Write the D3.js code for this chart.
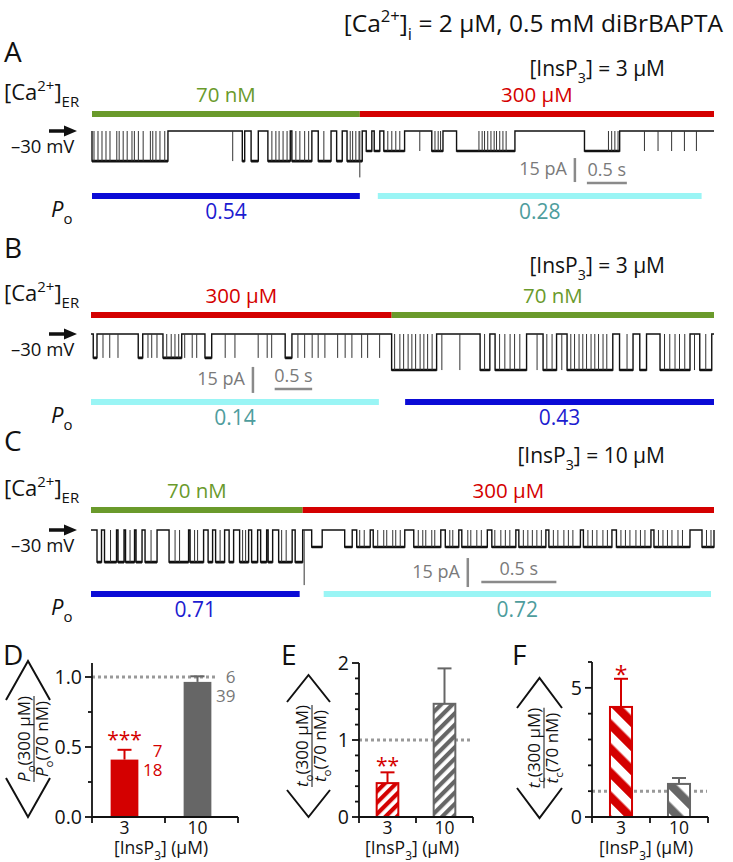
<!DOCTYPE html>
<html><head><meta charset="utf-8">
<script src="https://cdn.jsdelivr.net/npm/d3@7"></script>
<style>
body{margin:0;background:#fff;}
svg{display:block;font-family:'Open Sans','Noto Sans',sans-serif;}
</style></head><body>
<svg id="fig" width="733" height="862"></svg>
<script>
// ================= DATA =================
// Single-channel traces: times in s, currents in pA (downward = open)
const durA = 7.78, durB = 8.31, durC = 4.15;
const erA = [["70 nM",0,3.35],["300 µM",3.35,7.78]];
const poA = [["70 nM","0.54",0,3.35],["300 µM","0.28",3.575,7.625]];
const ampA = [18.8, 12.5];
const openA = [[0,0.95],[1.88,1.91],[1.99,2.08],[2.20,2.48],[2.50,2.75],[2.83,2.99],[3.06,3.13],[3.19,3.38],[3.43,3.50],[3.53,3.60],[3.65,3.91],[4.25,4.39],[4.56,5.29],[6.16,6.60]];
const closeA = [0.025,0.075,0.125,0.175,0.225,0.31,0.34,0.39,0.44,0.50,0.53,0.58,0.64,0.73,0.76,0.80,0.85,0.91,2.25,2.30,2.34,2.39,2.44,2.55,2.60,2.66,2.71,2.90,3.23,3.26,3.30,3.34,3.70,3.75,3.80,3.85,4.29,4.33,4.36,4.84,4.88,4.91,4.95,4.99,5.03,5.06,5.10,5.14,5.18,6.46,6.50,6.54,6.58];
const spikeA = [1.76,4.10,6.91,7.08,7.25,7.41,7.56];
const artA = [[3.35,29]];
const sbA = {tV:6.04, iV:16.9, tH:6.19, iH:32.5};

const erB = [["300 µM",0,4.01],["70 nM",4.01,8.31]];
const poB = [["300 µM","0.14",0,3.84],["70 nM","0.43",4.19,8.31]];
const ampB = [13.8, 20.8];
const openB = [[0.03,0.08],[0.63,0.69],[0.96,1.21],[1.52,1.61],[2.59,2.68],[4.01,4.61],[5.19,5.32],[5.39,5.81],[6.03,6.21],[6.35,6.96],[7.05,7.23],[7.32,7.41],[7.59,7.99],[8.12,8.28]];
const closeB = [1.01,1.07,1.12,1.17,4.05,4.12,4.17,4.23,4.28,4.33,4.39,4.44,4.49,4.55,5.25,5.45,5.52,5.59,5.65,5.72,6.08,6.15,6.40,6.45,6.51,6.56,6.61,6.67,6.72,6.77,6.83,6.88,7.15,7.65,7.72,7.79,7.85,7.92,8.20];
const spikeB = [0.16,0.25,0.36,0.76,0.81,0.88,1.25,1.35,1.41,1.79,1.92,2.23,2.35,2.41,2.76,2.85,2.95,3.03,3.12,3.29,3.39,3.48,3.61,3.69,3.85,4.68,4.92,5.95,6.28,8.05];
const artB = [];
const sbB = {tV:2.16, iV:19.0, tH:2.45, iH:31.7};

const erC = [["70 nM",0,1.41],["300 µM",1.41,4.15]];
const poC = [["70 nM","0.71",0,1.39],["300 µM","0.72",1.55,4.13]];
const ampC = [16.6, 8.8];
const openC = [[0.04,0.07],[0.09,0.17],[0.18,0.22],[0.23,0.29],[0.30,0.34],[0.36,0.44],[0.52,0.65],[0.66,0.75],[0.78,0.81],[0.83,0.89],[0.92,0.95],[0.99,1.05],[1.07,1.11],[1.13,1.17],[1.18,1.21],[1.25,1.34],[1.36,1.41],[1.47,1.54],[1.69,1.74],[1.77,1.86],[1.88,2.09],[2.15,2.33],[2.36,2.45],[2.47,2.64],[2.67,2.83],[2.85,3.03],[3.05,3.26],[3.28,3.47],[3.50,3.73],[3.75,3.99],[4.07,4.15]];
const closeC = [0.13,0.26,0.40,0.56,0.59,0.69,0.71,0.86,1.01,1.03,1.27,1.30,1.79,1.82,1.91,1.95,1.97,2.01,2.03,2.06,2.18,2.21,2.23,2.27,2.29,2.39,2.41,2.51,2.53,2.57,2.60,2.69,2.73,2.76,2.79,2.88,2.91,2.94,2.97,3.00,3.08,3.11,3.15,3.18,3.21,3.31,3.34,3.37,3.41,3.44,3.53,3.56,3.59,3.63,3.66,3.69,3.78,3.81,3.84,3.87,3.91,3.94,4.10,4.13];
const spikeC = [];
const artC = [[1.42,28.5]];
const sbC = {tV:2.51, iV:14.5, tH:2.60, iH:26.9};

// Summary bar charts
const barCats = ["3","10"];
const poRatio = [0.41, 0.965], poRatioErr = [0.07, 0.04];
const poN = [["7","18"],["6","39"]];
const toRatio = [0.44, 1.47], toRatioErr = [0.14, 0.46];
const tcRatio = [4.26, 1.28], tcRatioErr = [1.09, 0.23];
const sigD = ["***",""], sigE = ["**",""], sigF = ["*",""];

// ================= DRAW =================
const svg = d3.select("#fig");
const GREEN="#6a9a2b", RED="#d40000", BLUE="#0b0bd6", CYAN="#9af5f5", TEAL="#4e9d9d", GRAY="#666666", LGRAY="#8a8a8a", INK="#111";
const concColor = {"70 nM":GREEN, "300 µM":RED};
const poColor = {"70 nM":BLUE, "300 µM":CYAN};
const poText = {"70 nM":"#1c1cd0", "300 µM":TEAL};

function rich(sel, parts, size){
  let shift = 0;
  parts.forEach(p=>{
    const target = p.sup ? -size*0.42 : (p.sub ? size*0.32 : 0);
    const ts = sel.append("tspan").attr("dy", target-shift)
      .attr("font-size", (p.sup||p.sub) ? size*0.68 : size).text(p.t);
    if (p.it) ts.attr("font-style","italic");
    shift = target;
  });
  return sel;
}

// Title
rich(svg.append("text").attr("x",723).attr("y",32).attr("text-anchor","end").attr("font-size",24.5).attr("fill",INK),
  [{t:"[Ca"},{t:"2+",sup:1},{t:"]"},{t:"i",sub:1},{t:" = 2 µM, 0.5 mM diBrBAPTA"}], 24.5);

const panels = [
  {letter:"A", ins:"3", er:erA, po:poA, open:openA, close:closeA, spike:spikeA, amp:ampA, art:artA, sb:sbA, dur:durA,
   x0:92, x1:714, letterY:62, insY:76, erY:114, closedY:131, px15:24, poY:196},
  {letter:"B", ins:"3", er:erB, po:poB, open:openB, close:closeB, spike:spikeB, amp:ampB, art:artB, sb:sbB, dur:durB,
   x0:91, x1:714, letterY:258, insY:273, erY:315, closedY:334, px15:26, poY:402},
  {letter:"C", ins:"10", er:erC, po:poC, open:openC, close:closeC, spike:spikeC, amp:ampC, art:artC, sb:sbC, dur:durC,
   x0:91, x1:714, letterY:451, insY:463, erY:510, closedY:530, px15:29, poY:594}
];

panels.forEach(P=>{
  const g = svg.append("g");
  const x = d3.scaleLinear().domain([0,P.dur]).range([P.x0,P.x1]);
  const y = d3.scaleLinear().domain([0,15]).range([P.closedY, P.closedY+P.px15]);
  const sw = P.er[0][2];
  const lvl = t => t < sw ? P.amp[0] : P.amp[1];

  g.append("text").attr("x",4).attr("y",P.letterY).attr("font-size",28).attr("fill",INK).text(P.letter);
  rich(g.append("text").attr("x",665).attr("y",P.insY).attr("text-anchor","end").attr("font-size",21).attr("fill",INK),
    [{t:"[InsP"},{t:"3",sub:1},{t:"] = "+P.ins+" µM"}], 21);
  rich(g.append("text").attr("x",4).attr("y",P.erY-14).attr("font-size",22).attr("fill",INK),
    [{t:"[Ca"},{t:"2+",sup:1},{t:"]"},{t:"ER",sub:1}], 22);

  // [Ca2+]ER bars
  g.selectAll(".er").data(P.er).join("line")
    .attr("x1",d=>x(d[1])).attr("x2",d=>x(d[2])).attr("y1",P.erY).attr("y2",P.erY)
    .attr("stroke",d=>concColor[d[0]]).attr("stroke-width",6);
  g.selectAll(".erl").data(P.er).join("text")
    .attr("x",d=>x((d[1]+d[2])/2)).attr("y",P.erY-12).attr("text-anchor","middle")
    .attr("font-size",20.5).attr("fill",d=>concColor[d[0]]).text(d=>d[0]);

  // arrow + holding potential
  const ay = P.closedY;
  g.append("path").attr("d",`M49,${ay-1.8}H64V${ay-5.5}L77,${ay}L64,${ay+5.5}V${ay+1.8}H49Z`).attr("fill",INK);
  g.append("text").attr("x",11).attr("y",P.closedY+22).attr("font-size",18.5).attr("fill",INK).text("–30 mV");

  // trace: step path from open intervals
  let d = `M${x(0)},${y(0)}`, noisy = "";
  P.open.forEach(([a,b])=>{ const A = lvl((a+b)/2); d += `H${x(a)}V${y(A)}H${x(b)}V${y(0)}`; noisy += `M${x(a)},${y(A)}H${x(b)}`; });
  d += `H${x(P.dur)}`;
  g.append("path").attr("d",d).attr("fill","none").attr("stroke",INK).attr("stroke-width",1.4);
  g.append("path").attr("d",noisy).attr("fill","none").attr("stroke",INK).attr("stroke-width",2.6);
  // brief closings
  g.selectAll(".cl").data(P.close).join("line")
    .attr("x1",t=>x(t)).attr("x2",t=>x(t)).attr("y1",t=>y(lvl(t))).attr("y2",y(0))
    .attr("stroke","#333").attr("stroke-width",1);
  // brief openings
  g.selectAll(".op").data(P.spike).join("line")
    .attr("x1",t=>x(t)).attr("x2",t=>x(t)).attr("y1",y(0)).attr("y2",t=>y(lvl(t)))
    .attr("stroke","#333").attr("stroke-width",1);
  // solution-switch artifact
  g.selectAll(".art").data(P.art).join("line")
    .attr("x1",a=>x(a[0])).attr("x2",a=>x(a[0])).attr("y1",y(0)).attr("y2",a=>y(a[1]))
    .attr("stroke","#333").attr("stroke-width",1);

  // scale bars
  const sb = P.sb;
  g.append("line").attr("x1",x(sb.tV)).attr("x2",x(sb.tV)).attr("y1",y(sb.iV)).attr("y2",y(sb.iV+15))
    .attr("stroke",LGRAY).attr("stroke-width",2.5);
  g.append("line").attr("x1",x(sb.tH)).attr("x2",x(sb.tH+0.5)).attr("y1",y(sb.iH)).attr("y2",y(sb.iH))
    .attr("stroke",LGRAY).attr("stroke-width",2.5);
  g.append("text").attr("x",x(sb.tV)-8).attr("y",y(sb.iV+10.5)).attr("text-anchor","end")
    .attr("font-size",18).attr("fill","#7a7a7a").text("15 pA");
  g.append("text").attr("x",x(sb.tH+0.25)).attr("y",y(sb.iH)-7).attr("text-anchor","middle")
    .attr("font-size",18).attr("fill","#7a7a7a").text("0.5 s");

  // Po bars
  g.selectAll(".po").data(P.po).join("line")
    .attr("x1",d=>x(d[2])).attr("x2",d=>x(d[3])).attr("y1",P.poY).attr("y2",P.poY)
    .attr("stroke",d=>poColor[d[0]]).attr("stroke-width",6);
  g.selectAll(".pol").data(P.po).join("text")
    .attr("x",d=>x((d[2]+d[3])/2)).attr("y",P.poY+23).attr("text-anchor","middle")
    .attr("font-size",21).attr("fill",d=>poText[d[0]]).text(d=>d[1]);
  rich(g.append("text").attr("x",51).attr("y",P.poY+21).attr("font-size",22).attr("fill",INK),
    [{t:"P",it:1},{t:"o",sub:1}], 22);
});

// ---------- bar charts ----------
const defs = svg.append("defs");
function stripe(id, color, period, band, angle){
  const p = defs.append("pattern").attr("id",id).attr("patternUnits","userSpaceOnUse")
    .attr("width",period).attr("height",period).attr("patternTransform",`rotate(${angle})`);
  p.append("rect").attr("width",period).attr("height",period).attr("fill","#fff");
  p.append("rect").attr("width",band).attr("height",period).attr("fill",color);
}
stripe("eRed",RED,8,4.2,45); stripe("eGray",GRAY,8,4.2,45);
stripe("fRed",RED,17,8.5,-45); stripe("fGray",GRAY,17,8.5,-45);

const Y0 = 817;
const barPanels = [
  {letter:"D", lx:3, vals:poRatio, err:poRatioErr, sig:sigD, ymax:1.1, yTop:663, major:[0,0.5,1], minor:0.25, fmt:d3.format(".1f"),
   ax0:92, ax1:238, shift:-4, dotEnd:215, fills:[RED,GRAY], hatched:false, sigY:747, sigSize:21,
   lab:{cx:28, cy:739, half:78, base:39, hw:22, frac:6, sym:"P"}},
  {letter:"E", lx:281, vals:toRatio, err:toRatioErr, sig:sigE, ymax:2, yTop:663, major:[0,1,2], minor:0.2, fmt:d3.format("d"),
   ax0:359, ax1:473, shift:0, dotEnd:473, fills:["url(#eRed)","url(#eGray)"], hatched:true, sigY:773, sigSize:21,
   lab:{cx:308.5, cy:746, half:71, base:44, hw:21.5, frac:3.5, sym:"t", subc:"o"}},
  {letter:"F", lx:512, vals:tcRatio, err:tcRatioErr, sig:sigF, ymax:6, yTop:662, major:[0,5], minor:1, fmt:d3.format("d"),
   ax0:592, ax1:708, shift:0, dotEnd:707, fills:["url(#fRed)","url(#fGray)"], hatched:true, sigY:683, sigSize:23,
   lab:{cx:539.5, cy:748, half:70, base:40, hw:22.5, frac:4.5, sym:"t", subc:"c"}}
];
const barStroke = [RED, GRAY];

barPanels.forEach(B=>{
  const g = svg.append("g");
  const y = d3.scaleLinear().domain([0,B.ymax]).range([Y0,B.yTop]);
  const xa = d3.scaleBand().domain(barCats).range([B.ax0,B.ax1]);
  const xb = d3.scaleBand().domain(barCats).range([B.ax0+B.shift,B.ax1+B.shift]);
  const bw = xa.step()*0.38;
  const cx = c => xb(c)+xb.bandwidth()/2;

  g.append("text").attr("x",B.lx).attr("y",665).attr("font-size",28).attr("fill",INK).text(B.letter);

  // dotted reference at 1
  g.append("line").attr("x1",B.ax0).attr("x2",B.dotEnd).attr("y1",y(1)).attr("y2",y(1))
    .attr("stroke","#999").attr("stroke-width",3).attr("stroke-dasharray","3,3");

  // bars
  barCats.forEach((c,i)=>{
    const v = B.vals[i], e = B.err[i];
    g.append("line").attr("x1",cx(c)).attr("x2",cx(c)).attr("y1",y(v)).attr("y2",y(v+e))
      .attr("stroke",barStroke[i]).attr("stroke-width",2);
    g.append("line").attr("x1",cx(c)-7).attr("x2",cx(c)+7).attr("y1",y(v+e)).attr("y2",y(v+e))
      .attr("stroke",barStroke[i]).attr("stroke-width",2);
    g.append("rect").attr("x",cx(c)-bw/2).attr("width",bw).attr("y",y(v)).attr("height",Y0-y(v))
      .attr("fill",B.fills[i]).attr("stroke",B.hatched?barStroke[i]:"none").attr("stroke-width",2);
    if (B.sig[i]) g.append("text").attr("x",cx(c)).attr("y",B.sigY).attr("text-anchor","middle")
      .attr("font-size",B.sigSize).attr("fill",RED).text(B.sig[i]);
  });

  // axes
  const ax = g.append("g").attr("stroke",INK).attr("stroke-width",1.8);
  ax.append("line").attr("x1",B.ax0).attr("x2",B.ax0).attr("y1",Y0+6).attr("y2",B.yTop);
  ax.append("line").attr("x1",B.ax0).attr("x2",B.ax1).attr("y1",Y0).attr("y2",Y0);
  d3.range(0,B.ymax+1e-9,B.minor).forEach(v=>{
    const maj = B.major.some(m=>Math.abs(m-v)<1e-6);
    ax.append("line").attr("x1",B.ax0-(maj?7:4)).attr("x2",B.ax0).attr("y1",y(v)).attr("y2",y(v));
  });
  barCats.forEach(c=>{
    const tx = xa(c)+xa.step();
    ax.append("line").attr("x1",tx).attr("x2",tx).attr("y1",Y0).attr("y2",Y0+6);
  });
  g.selectAll(".yl").data(B.major).join("text")
    .attr("x",B.ax0-10).attr("y",v=>y(v)+7).attr("text-anchor","end").attr("font-size",19.5).attr("fill",INK)
    .text(B.fmt);
  g.selectAll(".xl").data(barCats).join("text")
    .attr("x",cx).attr("y",Y0+17).attr("text-anchor","middle").attr("font-size",17.5).attr("fill",INK).text(d=>d);
  rich(g.append("text").attr("x",(B.ax0+B.ax1)/2-4).attr("y",Y0+37).attr("text-anchor","middle").attr("font-size",17.5).attr("fill",INK),
    [{t:"[InsP"},{t:"3",sub:1},{t:"] (µM)"}], 17.5);

  // bracketed ratio label
  const L = B.lab;
  const lg = g.append("g").attr("transform",`translate(${L.cx},${L.cy}) rotate(-90)`);
  lg.append("path").attr("d",`M${-L.base},${-L.hw}L${-L.half},0L${-L.base},${L.hw}M${L.base},${-L.hw}L${L.half},0L${L.base},${L.hw}`)
    .attr("fill","none").attr("stroke",INK).attr("stroke-width",2);
  const fg = lg.append("g").attr("transform",`translate(0,${L.frac})`);
  const symParts = () => L.sym==="P" ? [{t:"P",it:1},{t:"o",sub:1}] : [{t:"t",it:1},{t:L.subc,sub:1}];
  const num = rich(fg.append("text").attr("x",0).attr("y",-4).attr("text-anchor","middle").attr("font-size",17).attr("fill",INK),
    symParts().concat([{t:"(300 µM)"}]), 17);
  rich(fg.append("text").attr("x",0).attr("y",14).attr("text-anchor","middle").attr("font-size",17).attr("fill",INK),
    symParts().concat([{t:"(70 nM)"}]), 17);
  const w = num.node().getComputedTextLength();
  fg.append("line").attr("x1",-w/2).attr("x2",w/2).attr("y1",0).attr("y2",0).attr("stroke",INK).attr("stroke-width",1);
});

// n labels on panel D
const D = barPanels[0];
const yD = d3.scaleLinear().domain([0,D.ymax]).range([Y0,D.yTop]);
const xD = d3.scaleBand().domain(barCats).range([D.ax0+D.shift,D.ax1+D.shift]);
const nColor = [RED, "#777"];
barCats.forEach((c,i)=>{
  const v = poRatio[i]+poRatioErr[i];
  const xr = xD(c)+xD.bandwidth()/2+38;
  svg.append("text").attr("x",xr).attr("y",yD(v)+7).attr("text-anchor","end").attr("font-size",17).attr("fill",nColor[i]).text(poN[i][0]);
  svg.append("text").attr("x",xr).attr("y",yD(v)+26).attr("text-anchor","end").attr("font-size",17).attr("fill",nColor[i]).text(poN[i][1]);
});
</script>
</body></html>
